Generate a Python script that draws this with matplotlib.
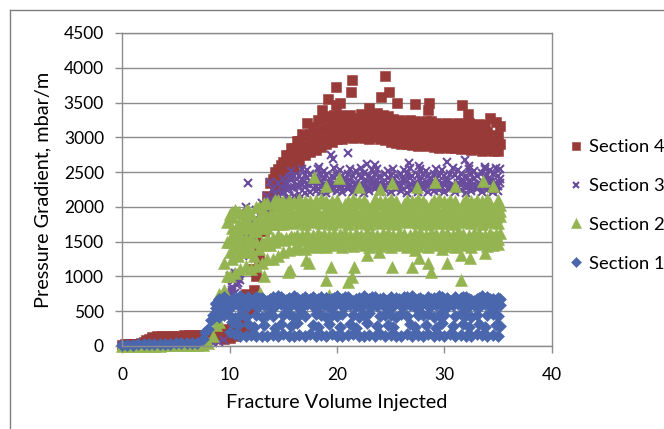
import numpy as np
import matplotlib
matplotlib.use("Agg")
import matplotlib.pyplot as plt
from matplotlib.lines import Line2D

plt.rcParams['font.family'] = ['Lato', 'DejaVu Sans']

nan = float('nan')

#############################################################
# Data
#############################################################

# fracture volume injected (two interleaved x grids of the sampled rows)
fvi = [0.0, 0.5, 1.0, 1.5, 2.0, 2.5, 3.0, 3.5, 4.0, 4.5,
       5.0, 5.5, 6.0, 6.5, 7.0, 7.5, 8.0, 8.5, 9.0, 9.5,
       10.0, 10.5, 11.0, 11.5, 12.0, 12.5, 13.0, 13.5, 14.0, 14.5,
       15.0, 15.5, 16.0, 16.5, 17.0, 17.5, 18.0, 18.5, 19.0, 19.5,
       20.0, 20.5, 21.0, 21.5, 22.0, 22.5, 23.0, 23.5, 24.0, 24.5,
       25.0, 25.5, 26.0, 26.5, 27.0, 27.5, 28.0, 28.5, 29.0, 29.5,
       30.0, 30.5, 31.0, 31.5, 32.0, 32.5, 33.0, 33.5, 34.0, 34.5,
       35.0]
fvi_b = [0.25, 0.75, 1.25, 1.75, 2.25, 2.75, 3.25, 3.75, 4.25, 4.75,
         5.25, 5.75, 6.25, 6.75, 7.25, 7.75, 8.25, 8.75, 9.25, 9.75,
         10.25, 10.75, 11.25, 11.75, 12.25, 12.75, 13.25, 13.75, 14.25, 14.75,
         15.25, 15.75, 16.25, 16.75, 17.25, 17.75, 18.25, 18.75, 19.25, 19.75,
         20.25, 20.75, 21.25, 21.75, 22.25, 22.75, 23.25, 23.75, 24.25, 24.75,
         25.25, 25.75, 26.25, 26.75, 27.25, 27.75, 28.25, 28.75, 29.25, 29.75,
         30.25, 30.75, 31.25, 31.75, 32.25, 32.75, 33.25, 33.75, 34.25, 34.75,
         35.2]

# Section 4 (mbar/m)
s4_r1 = [20, 25, 25, 35, 60, 100, 120, 125, 125, 130,
         130, 135, 135, 140, 140, 140, 145, 130, 110, 100,
         110, 140, 180, 250, 500, 1000, 1450, 1750, 2000, 2250,
         2350, 2450, 2550, 2650, 2750, 2790, 2820, 2860, 2900, 2940,
         2970, 2980, 3000, 2990, 3000, 2990, 2980, 3000, 2970, 2960,
         2940, 2920, 2900, 2910, 2890, 2880, 2900, 2880, 2860, 2850,
         2860, 2840, 2850, 2830, 2840, 2820, 2830, 2810, 2820, 2800,
         2800]
s4_r2 = [30, 30, 35, 45, 90, 125, 140, 145, 150, 150,
         150, 155, 155, 160, 160, 165, 170, 200, 230, 250,
         280, 320, 400, 500, 800, 1250, 1650, 1950, 2200, 2400,
         2500, 2600, 2700, 2800, 2880, 2900, 2930, 2960, 3000, 3030,
         3080, 3090, 3100, 3090, 3110, 3100, 3090, 3110, 3080, 3070,
         3050, 3030, 3010, 3020, 3000, 2990, 3010, 2990, 2970, 2960,
         2970, 2950, 2960, 2940, 2960, 2930, 2950, 2920, 2940, 2920,
         2910]
s4_r3 = [nan, nan, nan, nan, nan, nan, nan, nan, nan, nan,
         nan, nan, nan, nan, nan, nan, nan, nan, nan, nan,
         nan, nan, nan, 750, 1100, 1500, 1850, 2150, 2400, 2550,
         2650, 2750, 2850, 2950, 3020, 3050, 3080, 3100, 3130, 3160,
         3190, 3200, 3210, 3190, 3220, 3200, 3210, 3230, 3190, 3180,
         3160, 3140, 3120, 3130, 3110, 3100, 3120, 3100, 3080, 3070,
         3080, 3060, 3070, 3050, 3080, 3040, 3060, 3040, 3070, 3040,
         3020]
s4_r4 = [nan, nan, nan, nan, nan, nan, nan, nan, nan, nan,
         nan, nan, nan, nan, nan, nan, nan, nan, nan, nan,
         nan, nan, nan, nan, 1350, 1650, 2000, 2350, 2500, 2600,
         2750, 2850, 2950, 3050, 3200, 3150, 3250, 3280, 3300, 3320,
         3320, 3300, 3320, 3280, 3330, 3300, 3340, 3350, 3320, 3300,
         3270, 3250, 3240, 3250, 3230, 3220, 3240, 3230, 3200, 3190,
         3210, 3190, 3200, 3180, 3210, 3170, 3190, 3180, 3280, 3220,
         3160]
s4_out_x = [18.6, 19.2, 19.9, 19.9, 20.3, 21.3, 21.4, 23.0, 24.1, 24.5,
            24.8, 25.6, 27.3, 28.5, 28.6, 31.6, 32.2]
s4_out_y = [3400, 3545, 3730, 3460, 3500, 3655, 3825, 3420, 3575, 3880,
            3655, 3490, 3480, 3390, 3500, 3470, 3335]

# Section 3
s3_r1 = [5, 10, 10, 10, 15, 15, 15, 20, 20, 20,
         20, 25, 25, 25, 30, 30, 30, 40, 60, 90,
         700, 760, 950, 1500, 1600, 1700, 1760, 1850, 1950, 2050,
         2100, 2140, 2160, 2190, 2200, 2210, 2230, 2220, 2200, 2240,
         2230, 2210, 2250, 2220, 2240, 2200, 2230, 2250, 2210, 2240,
         2220, 2250, 2230, 2200, 2240, 2220, 2250, 2210, 2230, 2240,
         2210, 2250, 2220, 2240, 2200, 2230, 2250, 2210, 2240, 2220,
         2230]
s3_r2 = [nan, nan, nan, nan, nan, nan, nan, nan, nan, nan,
         nan, nan, nan, nan, nan, nan, nan, nan, nan, nan,
         850, 900, 1300, 1600, 1700, 1800, 1900, 2000, 2100, 2200,
         2250, 2290, 2300, 2320, 2330, 2350, 2340, 2320, 2360, 2330,
         2340, 2360, 2320, 2350, 2330, 2370, 2340, 2320, 2360, 2340,
         2320, 2350, 2370, 2330, 2350, 2320, 2360, 2340, 2330, 2350,
         2360, 2320, 2350, 2340, 2370, 2330, 2350, 2320, 2360, 2340,
         2350]
s3_r3 = [nan, nan, nan, nan, nan, nan, nan, nan, nan, nan,
         nan, nan, nan, nan, nan, nan, nan, nan, nan, nan,
         1000, 1050, 1550, 1700, 1800, 1950, 2050, 2150, 2250, 2350,
         2400, 2420, 2440, 2450, 2460, 2470, 2450, 2480, 2460, 2440,
         2470, 2450, 2480, 2440, 2460, 2490, 2450, 2470, 2440, 2480,
         2460, 2440, 2470, 2490, 2450, 2460, 2480, 2440, 2470, 2450,
         2440, 2470, 2460, 2480, 2450, 2470, 2440, 2490, 2460, 2470,
         2450]
s3_r4 = [nan, nan, nan, nan, nan, nan, nan, nan, nan, nan,
         nan, nan, nan, nan, nan, nan, nan, nan, nan, nan,
         nan, nan, nan, nan, nan, nan, nan, nan, nan, nan,
         nan, 2520, nan, 2540, 2530, nan, 2550, 2520, nan, 2560,
         2530, nan, 2540, 2520, 2560, nan, 2530, 2550, nan, 2520,
         2540, nan, 2530, 2560, nan, 2540, 2520, nan, 2550, 2530,
         nan, 2560, 2530, nan, 2540, 2520, nan, 2550, 2530, 2560,
         2540]
s3_r5 = [nan, nan, nan, nan, nan, nan, nan, nan, nan, nan,
         nan, nan, nan, nan, nan, nan, nan, nan, nan, nan,
         780, 960, 1450, 1650, 1750, 1880, 1980, 2080, 2180, 2280,
         2330, 2380, 2400, 2390, 2410, 2420, 2380, 2400, 2290, 2410,
         2280, 2400, 2390, 2300, 2410, 2280, 2400, 2380, 2290, 2410,
         2390, 2290, 2400, 2410, 2280, 2390, 2300, 2400, 2410, 2290,
         2400, 2290, 2410, 2390, 2300, 2400, 2280, 2410, 2390, 2300,
         2400]
s3_r6 = [nan, nan, nan, nan, nan, nan, nan, nan, nan, nan,
         nan, nan, nan, nan, nan, nan, nan, nan, nan, nan,
         750, 1000, 1400, 1550, 1650, 1750, 1850, 1950, 2050, 2150,
         2200, 2260, 2280, 2300, 2290, 2310, 2280, 2300, 2320, 2290,
         2310, 2290, 2300, 2280, 2320, 2300, 2290, 2310, 2280, 2300,
         2290, 2310, 2300, 2280, 2320, 2290, 2300, 2310, 2280, 2300,
         2310, 2290, 2300, 2320, 2280, 2300, 2290, 2310, 2300, 2280,
         2300]
s3_out_x = [10.2, 10.4, 10.7, 10.8, 10.9, 11.5, 11.7, 13.8, 15.6, 18.3,
            19.4, 19.6, 21.0, 22.8, 23.5, 26.7, 27.6, 30.2, 31.9, 32.3, 33.8]
s3_out_y = [800, 950, 880, 1050, 1000, 2000, 2350, 2360, 2430, 2580,
            2745, 2690, 2780, 2610, 2600, 2625, 2590, 2640, 2670, 2590, 2580]

# Section 2
s2_r1 = [0, 0, 0, 5, 5, 5, 5, 5, 10, 10,
         10, 10, 10, 10, 15, 20, 40, 150, 350, 800,
         1000, 1050, 1100, 1150, 1100, 1150, 1200, 1250, 1250, 1300,
         1350, 1380, 1400, 1420, 1400, 1440, 1430, 1460, 1420, 1450,
         1470, 1430, 1460, 1440, 1480, 1450, 1420, 1470, 1440, 1460,
         1430, 1470, 1450, 1420, 1460, 1440, 1480, 1430, 1450, 1470,
         1440, 1460, 1420, 1470, 1450, 1430, 1460, 1480, 1440, 1450,
         1460]
s2_r2 = [nan, nan, nan, nan, nan, nan, nan, nan, nan, nan,
         nan, nan, nan, nan, nan, nan, nan, 300, 500, 1000,
         1250, 1300, 1350, 1350, 1300, 1400, 1450, 1450, 1500, 1550,
         1550, 1580, 1600, 1590, 1620, 1600, 1630, 1610, 1590, 1620,
         1610, 1630, 1600, 1620, 1590, 1640, 1610, 1600, 1630, 1620,
         1600, 1630, 1610, 1590, 1620, 1640, 1600, 1620, 1610, 1630,
         1620, 1600, 1640, 1610, 1590, 1620, 1630, 1600, 1620, 1610,
         1620]
s2_r3 = [nan, nan, nan, nan, nan, nan, nan, nan, nan, nan,
         nan, nan, nan, nan, nan, nan, nan, nan, 750, 1200,
         1500, 1500, 1600, 1550, 1550, 1650, 1700, 1700, 1750, 1750,
         1760, 1780, 1770, 1790, 1760, 1780, 1800, 1770, 1790, 1760,
         1780, 1790, 1760, 1800, 1770, 1780, 1760, 1790, 1770, 1800,
         1770, 1760, 1790, 1780, 1800, 1770, 1790, 1760, 1780, 1770,
         1790, 1770, 1760, 1800, 1780, 1770, 1790, 1760, 1780, 1800,
         1770]
s2_r4 = [nan, nan, nan, nan, nan, nan, nan, nan, nan, nan,
         nan, nan, nan, nan, nan, nan, nan, nan, nan, 1500,
         1700, 1750, 1800, 1800, 1750, 1850, 1900, 1900, 1950, 1950,
         1930, 1950, 1940, 1960, 1930, 1950, 1940, 1920, 1960, 1940,
         1950, 1930, 1960, 1940, 1920, 1950, 1960, 1930, 1940, 1960,
         1920, 1950, 1940, 1960, 1930, 1950, 1920, 1940, 1960, 1930,
         1950, 1940, 1920, 1960, 1950, 1930, 1940, 1960, 1920, 1950,
         1940]
s2_r5 = [nan, nan, nan, nan, nan, nan, nan, nan, nan, nan,
         nan, nan, nan, nan, nan, nan, nan, nan, nan, nan,
         1900, 1950, nan, 1950, 1900, 2000, 2000, 2050, 2050, 2100,
         2080, 2100, 2070, 2110, 2090, 2080, 2100, 2120, 2090, 2080,
         2100, nan, 2090, 2110, 2080, 2100, nan, 2120, 2090, 2080,
         2110, 2090, nan, 2100, 2080, 2120, 2090, nan, 2100, 2110,
         2080, 2100, 2090, nan, 2110, 2080, 2100, 2090, 2120, nan,
         2100]
s2_r6 = [nan, nan, nan, nan, nan, nan, nan, nan, nan, nan,
         nan, nan, nan, nan, nan, nan, nan, nan, nan, nan,
         1350, 1400, 1450, 1450, 1400, 1500, 1500, 1550, 1550, 1600,
         1520, 1540, 1560, 1530, 1550, 1510, 1540, 1560, 1520, 1550,
         1530, 1560, 1510, 1540, 1550, 1520, 1560, 1530, 1540, 1510,
         1550, 1530, 1560, 1520, 1540, 1550, 1510, 1540, 1560, 1530,
         1520, 1550, 1540, 1560, 1510, 1540, 1530, 1550, 1520, 1560,
         1540]
s2_r7 = [nan, nan, nan, nan, nan, nan, nan, nan, nan, nan,
         nan, nan, nan, nan, nan, nan, nan, nan, nan, nan,
         1600, 1650, 1700, 1700, 1650, 1750, 1800, 1800, 1850, 1850,
         1870, 1850, 1880, 1860, 1890, 1850, 1870, 1880, 1860, 1890,
         1860, 1880, 1850, 1870, 1890, 1860, 1880, 1850, 1870, 1890,
         1880, 1860, 1890, 1850, 1870, 1880, 1860, 1890, 1850, 1870,
         1890, 1860, 1870, 1850, 1880, 1890, 1860, 1870, 1880, 1850,
         1870]
s2_r8 = [nan, nan, nan, nan, nan, nan, nan, nan, nan, nan,
         nan, nan, nan, nan, nan, nan, nan, nan, nan, nan,
         1850, nan, 1900, 1950, nan, 2000, 2050, nan, 2100, 2050,
         2030, 2050, nan, 2020, 2040, 2010, nan, 2050, 2030, 2020,
         nan, 2040, 2020, 2050, nan, 2030, 2010, 2040, nan, 2050,
         2020, nan, 2040, 2030, 2050, nan, 2020, 2040, 2010, nan,
         2040, 2030, nan, 2050, 2020, 2040, nan, 2030, 2050, 2020,
         2030]
s2_out_x = [9.8, 10.2, 10.9, 12.8, 13.2, 15.4, 15.6, 17.1, 17.4, 19.0,
            19.3, 19.4, 21.0, 21.4, 21.6, 22.8, 23.9, 25.1, 27.0, 27.3,
            27.6, 28.5, 28.7, 29.8, 30.2, 31.5, 31.5, 32.4, 33.8,
            17.9, 19.0, 20.2, 22.0, 24.0, 25.1, 27.4, 29.1, 31.0, 33.6, 34.5]
s2_out_y = [1780, 1930, 1930, 760, 1000, 1070, 1090, 1240, 1190, 950,
            733, 1140, 925, 995, 1140, 1310, 1355, 1140, 1140, 1380,
            1260, 1190, 1070, 1400, 1190, 1310, 950, 1260, 1330,
            2430, 2300, 2410, 2280, 2250, 2350, 2290, 2360, 2300, 2375, 2300]

# Section 1
s1_r1 = [15, 20, 20, 25, 25, 30, 30, 35, 35, 35,
         40, 40, 40, 45, 50, 100, 250, 450, 500, 480,
         200, 170, 150, 140, 160, 150, 140, 150, 160, 150,
         170, 150, 140, 160, 150, 170, 140, 160, 150, 170,
         150, 140, 160, 170, 150, 140, 160, 150, 170, 140,
         160, 150, 140, 170, 150, 160, 140, 170, 150, 160,
         140, 170, 150, 160, 140, 150, 170, 160, 140, 160,
         150]
s1_r2 = [nan, nan, nan, nan, nan, nan, nan, nan, nan, nan,
         nan, nan, nan, nan, nan, 200, 380, 550, 600, 560,
         350, 300, nan, 320, 280, nan, 300, nan, 260, 310,
         nan, 290, 330, nan, nan, 300, 270, nan, 320, nan,
         280, nan, 310, 260, nan, 330, nan, 290, nan, 300,
         270, nan, nan, 320, 280, nan, 300, nan, 260, 330,
         nan, 290, nan, 310, 270, nan, 320, 280, nan, 300,
         290]
s1_r3 = [nan, nan, nan, nan, nan, nan, nan, nan, nan, nan,
         nan, nan, nan, nan, nan, nan, nan, nan, 420, 450,
         430, 400, 450, 420, nan, 440, 410, 450, 430, nan,
         440, 460, 420, 450, 430, nan, 460, 440, 420, 450,
         430, 460, nan, 440, 420, 450, 470, nan, 430, 450,
         440, 420, 460, 430, nan, 450, 440, 460, 420, 440,
         450, nan, 430, 460, 440, 420, 450, nan, 440, 460,
         430]
s1_r4 = [nan, nan, nan, nan, nan, nan, nan, nan, nan, nan,
         nan, nan, nan, nan, nan, nan, nan, 620, 580, 600,
         570, 590, 560, 580, 600, 570, 590, 560, 580, 600,
         570, 590, 580, 560, 600, 580, 570, 590, 560, 580,
         600, 570, 590, 580, 560, 600, 570, 580, 590, 560,
         580, 600, 570, 590, 560, 580, 600, 570, 590, 580,
         560, 590, 600, 570, 580, 590, 560, 600, 580, 570,
         590]
s1_r5 = [nan, nan, nan, nan, nan, nan, nan, nan, nan, nan,
         nan, nan, nan, nan, nan, nan, nan, nan, 680, 700,
         650, 700, 720, 680, 660, 710, 690, 650, 700, 720,
         670, 690, 720, 660, 700, 680, 650, 710, 690, 670,
         720, 680, 700, 650, 690, 720, 670, 700, 680, 660,
         710, 690, 650, 700, 720, 680, 660, 700, 690, 720,
         670, 650, 700, 690, 710, 660, 680, 720, 700, 670,
         690]
s1_r6 = [nan, nan, nan, nan, nan, nan, nan, nan, nan, nan,
         nan, nan, nan, nan, nan, nan, nan, 600, 640, 660,
         640, 680, 660, 700, 640, 690, 660, 680, 650, 700,
         660, 640, 690, 670, 650, 700, 680, 640, 670, 690,
         650, 700, 660, 680, 640, 670, 700, 650, 690, 660,
         640, 680, 700, 650, 670, 690, 640, 680, 660, 700,
         690, 660, 640, 700, 670, 650, 690, 660, 680, 640,
         670]

#############################################################
# Presentation
#############################################################

def collect_points(rows, out_x=None, out_y=None):
    xs = []
    ys = []
    for grid, row in rows:
        for x, y in zip(grid, row):
            if not np.isnan(y):
                xs.append(x)
                ys.append(y)
    if out_x is not None:
        xs = xs + out_x
        ys = ys + out_y
    return xs, ys

red = '#983a38'
purple = '#6a4c9c'
green = '#94b451'
blue = '#4a66ad'
grey = '#8c8c8c'

fig = plt.figure(figsize=(6.64, 4.29), dpi=100)
ax = fig.add_axes([122 / 664, 1 - 346 / 429, 430 / 664, 313 / 429])

x4, y4 = collect_points([(fvi, s4_r1), (fvi_b, s4_r2), (fvi, s4_r3), (fvi_b, s4_r4)],
                        s4_out_x, s4_out_y)
x3, y3 = collect_points([(fvi, s3_r1), (fvi_b, s3_r2), (fvi, s3_r3), (fvi_b, s3_r4),
                         (fvi_b, s3_r5), (fvi, s3_r6)], s3_out_x, s3_out_y)
x2, y2 = collect_points([(fvi, s2_r1), (fvi_b, s2_r2), (fvi, s2_r3), (fvi_b, s2_r4),
                         (fvi, s2_r5), (fvi, s2_r6), (fvi_b, s2_r7), (fvi_b, s2_r8)],
                        s2_out_x, s2_out_y)
x1, y1 = collect_points([(fvi, s1_r1), (fvi_b, s1_r2), (fvi, s1_r3), (fvi_b, s1_r4),
                         (fvi, s1_r5), (fvi_b, s1_r6)])

ax.plot(x4, y4, ls='none', marker='s', ms=7.0, color=red, mec=red, mew=0.4,
        clip_on=False, label='Section 4')
ax.plot(x3, y3, ls='none', marker='x', ms=6.2, color=purple, mew=1.5,
        clip_on=False, label='Section 3')
ax.plot(x2, y2, ls='none', marker='^', ms=8.2, color=green, mec=green, mew=0.4,
        clip_on=False, label='Section 2')
ax.plot(x1, y1, ls='none', marker='D', ms=6.0, color=blue, mec=blue, mew=0.4,
        clip_on=False, label='Section 1')

ax.set_xlim(0, 40)
ax.set_ylim(0, 4500)
ax.set_xticks(range(0, 41, 10))
ax.set_yticks(range(0, 4501, 500))
ax.yaxis.grid(True, color=grey, lw=1)
ax.set_axisbelow(True)
for s in ax.spines.values():
    s.set_color(grey)
    s.set_linewidth(1)
ax.tick_params(axis='both', direction='out', length=5, width=1, color=grey,
               labelsize=12.5)
ax.tick_params(axis='x', pad=10)
ax.tick_params(axis='y', pad=8)
ax.set_xlabel('Fracture Volume Injected', fontsize=14.3, labelpad=8)
ax.set_ylabel('Pressure Gradient, mbar/m', fontsize=14.3, labelpad=9)

# outer chart frame (runs off the right and bottom of the picture)
fig.add_artist(Line2D([10 / 664, 1.0], [1 - 10 / 429, 1 - 10 / 429],
                      transform=fig.transFigure, color='#7f7f7f', lw=1))
fig.add_artist(Line2D([10 / 664, 10 / 664], [0.0, 1 - 10 / 429],
                      transform=fig.transFigure, color='#7f7f7f', lw=1))

fig.legend(loc='upper left', bbox_to_anchor=(567 / 664, 1 - 139 / 429),
           frameon=False, fontsize=13.2, labelspacing=1.25, handletextpad=0.2,
           handlelength=1.0, borderaxespad=0, borderpad=0, markerscale=0.8)

fig.savefig('out.png', dpi=100)
